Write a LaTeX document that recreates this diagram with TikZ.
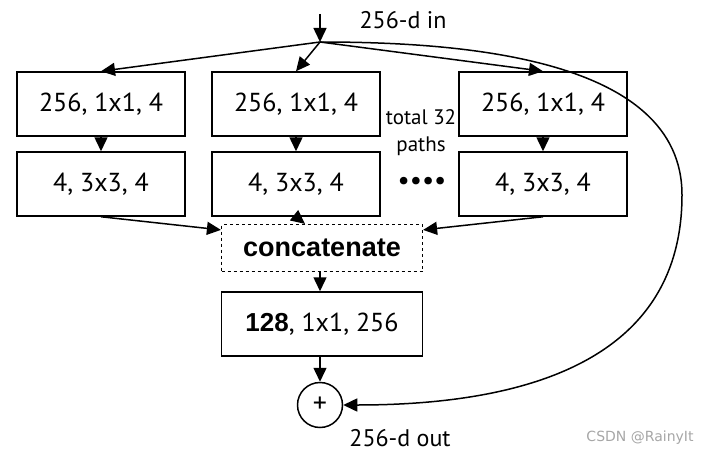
\documentclass[tikz,border=0pt]{standalone}
\usepackage{fontspec}
\setmainfont{PT Sans}
\newfontfamily\tucnyfont{Liberation Sans}
\newfontfamily\markfont{DejaVu Sans}
\usetikzlibrary{arrows.meta}

\tikzset{
  blok/.style={draw, line width=1.5pt, minimum width=168pt, minimum height=64pt,
    inner sep=0pt, font=\fontsize{26}{30}\selectfont},
  sipka/.style={-{Triangle[length=14pt,width=13pt]}, line width=1.5pt},
  popis/.style={font=\fontsize{24}{28}\selectfont, inner sep=0pt}
}

\begin{document}
\begin{tikzpicture}[x=1pt, y=1pt]
        \useasboundingbox (0,0) rectangle (720,-460);

        % vstup
        \coordinate (top) at (320,-14);
        \coordinate (split) at (320,-42);
        \draw[sipka] (top) -- (split);
        \node[popis] (in) at (403,-20) {256-d in};

        % cesty
        \node[blok] (a1) at (101,-104) {256, 1x1, 4};
        \node[blok] (b1) at (296,-104) {256, 1x1, 4};
        \node[blok] (c1) at (543,-104) {256, 1x1, 4};
        \node[blok] (a2) at (101,-184) {4, 3x3, 4};
        \node[blok] (b2) at (296,-184) {4, 3x3, 4};
        \node[blok] (c2) at (543,-184) {4, 3x3, 4};

        \node[popis, font=\fontsize{21}{24}\selectfont] (tot) at (421,-117) {total 32};
        \node[popis, font=\fontsize{21}{24}\selectfont] (pth) at (421,-146) {paths};
        \node[popis, font=\fontsize{27}{27}\selectfont] (dots) at (422,-183) {••••};

        \foreach \n in {a,b,c} {
            \draw[sipka] (split) -- (\n1.north);
            \draw[sipka] (\n1.south) -- (\n2.north);
        }

        % spojeni
        \node[blok, dashed, line width=1.2pt, minimum width=201pt, minimum height=47pt,
              font=\tucnyfont\fontsize{27}{30}\selectfont\bfseries] (cat) at (322,-248) {concatenate};
        \draw[sipka] (a2.south) -- ([yshift=-6pt]cat.north west);
        \draw[sipka] (b2.south) -- ([xshift=-17pt]cat.north);
        \draw[sipka] (c2.south) -- ([yshift=-6pt]cat.north east);

        \node[blok, minimum width=201pt] (conv) at (322,-324) {{\tucnyfont\bfseries 128}, 1x1, 256};
        \draw[sipka] (cat.south -| split) -- (conv.north -| split);

        % soucet
        \node[draw, circle, line width=1.5pt, minimum size=45pt, inner sep=0pt,
              font=\fontsize{28}{28}\selectfont] (plus) at (320,-405) {+};
        \draw[sipka] (conv.south -| split) -- (plus.north);
        \draw[sipka] (split) to[out=0, in=90, looseness=0.9] (682,-195)
                             to[out=-90, in=0, looseness=1.1] (plus.east);
        \node[popis] (out) at (400,-438) {256-d out};

        \node[font=\markfont\fontsize{14}{16}\selectfont, text=gray!70, inner sep=0pt] (mark) at (640,-438) {CSDN @RainyIt};

    \end{tikzpicture}
\end{document}
